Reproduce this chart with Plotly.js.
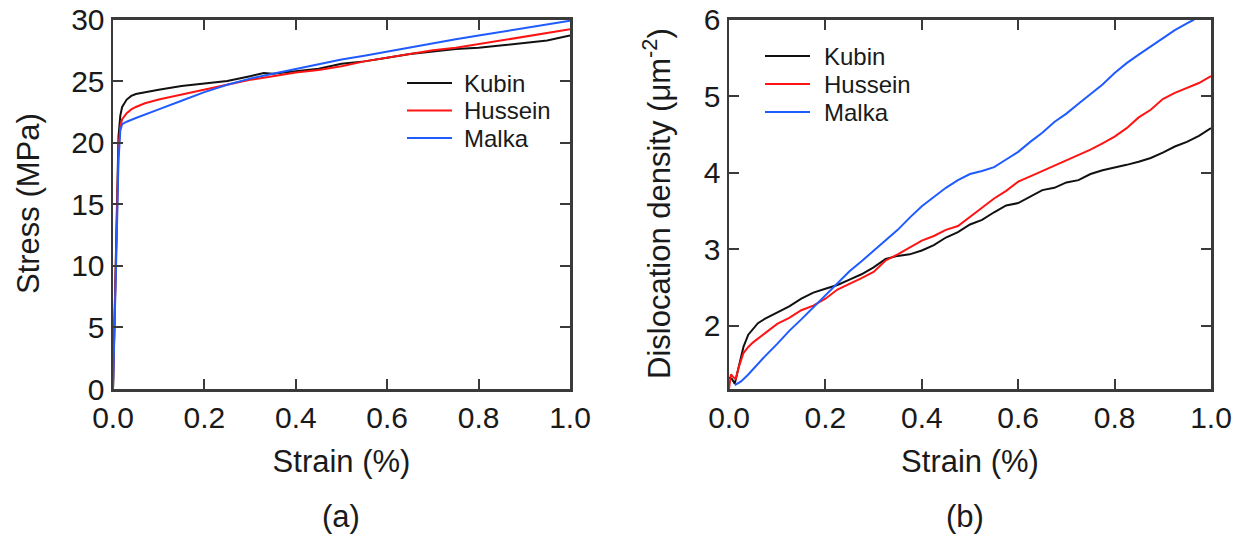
<!DOCTYPE html>
<html>
<head>
<meta charset="utf-8">
<script src="https://cdn.plot.ly/plotly-3.0.1.min.js"></script>
<style>html,body{margin:0;padding:0;background:#fff;}#chart{width:1244px;height:539px;}</style>
</head>
<body>
<div id="chart"></div>
<script>
// ---- (a) Stress vs strain ----
const seriesNames = ["Kubin", "Hussein", "Malka"];
const stressKubinX = [0, 0.003, 0.006, 0.009, 0.012, 0.016, 0.02, 0.03, 0.04, 0.05, 0.07, 0.1, 0.15, 0.2, 0.25, 0.3, 0.33, 0.35, 0.4, 0.45, 0.5, 0.55, 0.6, 0.65, 0.7, 0.75, 0.8, 0.85, 0.9, 0.95, 1.0];
const stressKubinY = [0, 5, 11, 17, 20.5, 22.2, 22.9, 23.5, 23.8, 23.95, 24.1, 24.3, 24.6, 24.8, 25.0, 25.4, 25.65, 25.6, 25.8, 26.0, 26.4, 26.6, 26.9, 27.2, 27.4, 27.6, 27.7, 27.9, 28.1, 28.3, 28.7];
const stressHusseinX = [0, 0.004, 0.008, 0.012, 0.016, 0.02, 0.03, 0.04, 0.05, 0.07, 0.1, 0.15, 0.2, 0.25, 0.3, 0.35, 0.4, 0.45, 0.5, 0.55, 0.6, 0.65, 0.7, 0.75, 0.8, 0.85, 0.9, 0.95, 1.0];
const stressHusseinY = [0, 6, 13, 19.5, 21.3, 21.9, 22.4, 22.7, 22.9, 23.2, 23.5, 23.9, 24.3, 24.7, 25.1, 25.4, 25.7, 25.9, 26.2, 26.6, 26.9, 27.2, 27.5, 27.7, 28.0, 28.3, 28.6, 28.9, 29.2];
const stressMalkaX = [0, 0.004, 0.008, 0.012, 0.016, 0.02, 0.03, 0.05, 0.07, 0.1, 0.15, 0.2, 0.25, 0.3, 0.35, 0.4, 0.45, 0.5, 0.55, 0.6, 0.65, 0.7, 0.75, 0.8, 0.85, 0.9, 0.95, 1.0];
const stressMalkaY = [0, 5, 12, 18.5, 21.0, 21.5, 21.7, 22.0, 22.3, 22.7, 23.4, 24.1, 24.7, 25.2, 25.6, 26.0, 26.35, 26.75, 27.05, 27.4, 27.7, 28.1, 28.4, 28.7, 29.0, 29.3, 29.6, 29.9];

// ---- (b) Dislocation density vs strain ----
const densKubinX = [0, 0.006, 0.012, 0.02, 0.03, 0.04, 0.05, 0.06, 0.075, 0.1, 0.125, 0.15, 0.175, 0.2, 0.225, 0.25, 0.275, 0.3, 0.325, 0.35, 0.375, 0.4, 0.425, 0.45, 0.475, 0.5, 0.525, 0.55, 0.575, 0.6, 0.625, 0.65, 0.675, 0.7, 0.725, 0.75, 0.775, 0.8, 0.825, 0.85, 0.875, 0.9, 0.925, 0.95, 0.975, 1.0];
const densKubinY = [1.32, 1.3, 1.24, 1.45, 1.72, 1.88, 1.96, 2.03, 2.09, 2.17, 2.25, 2.35, 2.43, 2.48, 2.53, 2.6, 2.67, 2.76, 2.87, 2.91, 2.93, 2.98, 3.05, 3.15, 3.22, 3.32, 3.38, 3.48, 3.57, 3.6, 3.68, 3.77, 3.8, 3.87, 3.9, 3.98, 4.03, 4.06, 4.1, 4.14, 4.19, 4.26, 4.34, 4.4, 4.48, 4.58];
const densHusseinX = [0, 0.004, 0.008, 0.014, 0.02, 0.03, 0.04, 0.05, 0.075, 0.1, 0.125, 0.15, 0.175, 0.2, 0.225, 0.25, 0.275, 0.3, 0.325, 0.35, 0.375, 0.4, 0.425, 0.45, 0.475, 0.5, 0.525, 0.55, 0.575, 0.6, 0.625, 0.65, 0.675, 0.7, 0.725, 0.75, 0.775, 0.8, 0.825, 0.85, 0.875, 0.9, 0.925, 0.95, 0.975, 1.0];
const densHusseinY = [1.17, 1.36, 1.33, 1.3, 1.45, 1.64, 1.72, 1.78, 1.9, 2.02, 2.1, 2.2, 2.26, 2.35, 2.47, 2.54, 2.62, 2.7, 2.85, 2.93, 3.02, 3.11, 3.17, 3.25, 3.3, 3.42, 3.54, 3.66, 3.76, 3.88, 3.95, 4.02, 4.08, 4.15, 4.23, 4.3, 4.38, 4.47, 4.58, 4.72, 4.82, 4.96, 5.04, 5.1, 5.17, 5.26];
const densMalkaX = [0.012, 0.025, 0.04, 0.05, 0.075, 0.1, 0.125, 0.15, 0.175, 0.2, 0.225, 0.25, 0.275, 0.3, 0.325, 0.35, 0.375, 0.4, 0.425, 0.45, 0.475, 0.5, 0.525, 0.55, 0.575, 0.6, 0.625, 0.65, 0.675, 0.7, 0.725, 0.75, 0.775, 0.8, 0.825, 0.85, 0.875, 0.9, 0.925, 0.95, 0.965];
const densMalkaY = [1.22, 1.27, 1.36, 1.43, 1.6, 1.76, 1.93, 2.08, 2.24, 2.39, 2.55, 2.71, 2.84, 2.98, 3.12, 3.25, 3.41, 3.56, 3.68, 3.8, 3.9, 3.98, 4.02, 4.07, 4.17, 4.27, 4.4, 4.52, 4.66, 4.77, 4.9, 5.02, 5.15, 5.3, 5.43, 5.54, 5.65, 5.76, 5.86, 5.95, 6.0];

const xTickVals = [0, 0.2, 0.4, 0.6, 0.8, 1.0];
const stressTickVals = [0, 5, 10, 15, 20, 25, 30];
const densTickVals = [2, 3, 4, 5, 6];

const colors = ["#111111", "#ff1414", "#1f5bff"];
const FONT = "Liberation Sans, Arial, sans-serif";
const TXT = "#1a1a1a";
const W = 1244, H = 539;

function tr(x, y, i, xa, ya) {
  return {x: x, y: y, name: seriesNames[i], type: "scatter", mode: "lines",
    xaxis: xa, yaxis: ya, showlegend: false,
    line: {color: colors[i], width: 2}};
}

const data = [
  tr(stressKubinX, stressKubinY, 0, "x", "y"),
  tr(stressHusseinX, stressHusseinY, 1, "x", "y"),
  tr(stressMalkaX, stressMalkaY, 2, "x", "y"),
  tr(densKubinX, densKubinY, 0, "x2", "y2"),
  tr(densHusseinX, densHusseinY, 1, "x2", "y2"),
  tr(densMalkaX, densMalkaY, 2, "x2", "y2")
];

const axBase = {
  showline: true, linecolor: "#3a3a3a", linewidth: 2.5, mirror: "ticks",
  ticks: "inside", ticklen: 10, tickwidth: 2, tickcolor: "#3a3a3a",
  showgrid: false, zeroline: false,
  tickfont: {family: FONT, size: 30, color: TXT}
};
const yDom = [1 - 389/H, 1 - 19.5/H];
const titleFont = {family: FONT, size: 31, color: TXT};

// legend keys (paper-pixel placement of the key, not data)
const legends = [
  {lineX0: 407, lineX1: 452, textX: 462, ys: [83, 110.5, 138]},
  {lineX0: 765, lineX1: 810, textX: 822, ys: [56, 84, 112]}
];
const shapes = [];
const annotations = [];
legends.forEach(function (lg) {
  seriesNames.forEach(function (nm, i) {
    shapes.push({type: "line", xref: "paper", yref: "paper",
      x0: lg.lineX0 / W, x1: lg.lineX1 / W, y0: 1 - lg.ys[i] / H, y1: 1 - lg.ys[i] / H,
      line: {color: colors[i], width: 2}});
    annotations.push({text: nm, xref: "paper", yref: "paper", x: lg.textX / W, y: 1 - lg.ys[i] / H,
      xanchor: "left", yanchor: "middle", showarrow: false,
      font: {family: FONT, size: 24, color: TXT}});
  });
});
// y-axis titles
annotations.push({text: "Stress (MPa)", xref: "paper", yref: "paper", x: 29 / W, y: 1 - 204 / H,
  xanchor: "center", yanchor: "middle", textangle: -90, showarrow: false, font: titleFont});
annotations.push({text: "Dislocation density (μm<sup>-2</sup>)", xref: "paper", yref: "paper", x: 657 / W, y: 1 - 204 / H,
  xanchor: "center", yanchor: "middle", textangle: -90, showarrow: false, font: titleFont});
// panel labels
annotations.push({text: "(a)", xref: "paper", yref: "paper", x: 341 / W, y: 1 - 516 / H,
  xanchor: "center", yanchor: "middle", showarrow: false, font: {family: FONT, size: 31, color: TXT}});
annotations.push({text: "(b)", xref: "paper", yref: "paper", x: 965 / W, y: 1 - 516 / H,
  xanchor: "center", yanchor: "middle", showarrow: false, font: {family: FONT, size: 31, color: TXT}});

const layout = {
  width: W, height: H,
  margin: {l: 0, r: 0, t: 0, b: 0},
  paper_bgcolor: "#fff", plot_bgcolor: "#fff",
  font: {family: FONT, color: TXT},
  showlegend: false,
  xaxis: Object.assign({}, axBase, {domain: [113/W, 570/W], anchor: "y", range: [0, 1],
    tickvals: xTickVals, tickformat: ".1f",
    title: {text: "Strain (%)", font: titleFont, standoff: 18}}),
  yaxis: Object.assign({}, axBase, {domain: yDom, anchor: "x", range: [0, 30],
    tickvals: stressTickVals}),
  xaxis2: Object.assign({}, axBase, {domain: [729/W, 1211/W], anchor: "y2", range: [0, 1],
    tickvals: xTickVals, tickformat: ".1f",
    title: {text: "Strain (%)", font: titleFont, standoff: 18}}),
  yaxis2: Object.assign({}, axBase, {domain: yDom, anchor: "x2", range: [1.17, 6],
    tickvals: densTickVals}),
  shapes: shapes,
  annotations: annotations
};

Plotly.newPlot("chart", data, layout, {displayModeBar: false, staticPlot: true});
</script>
</body>
</html>
